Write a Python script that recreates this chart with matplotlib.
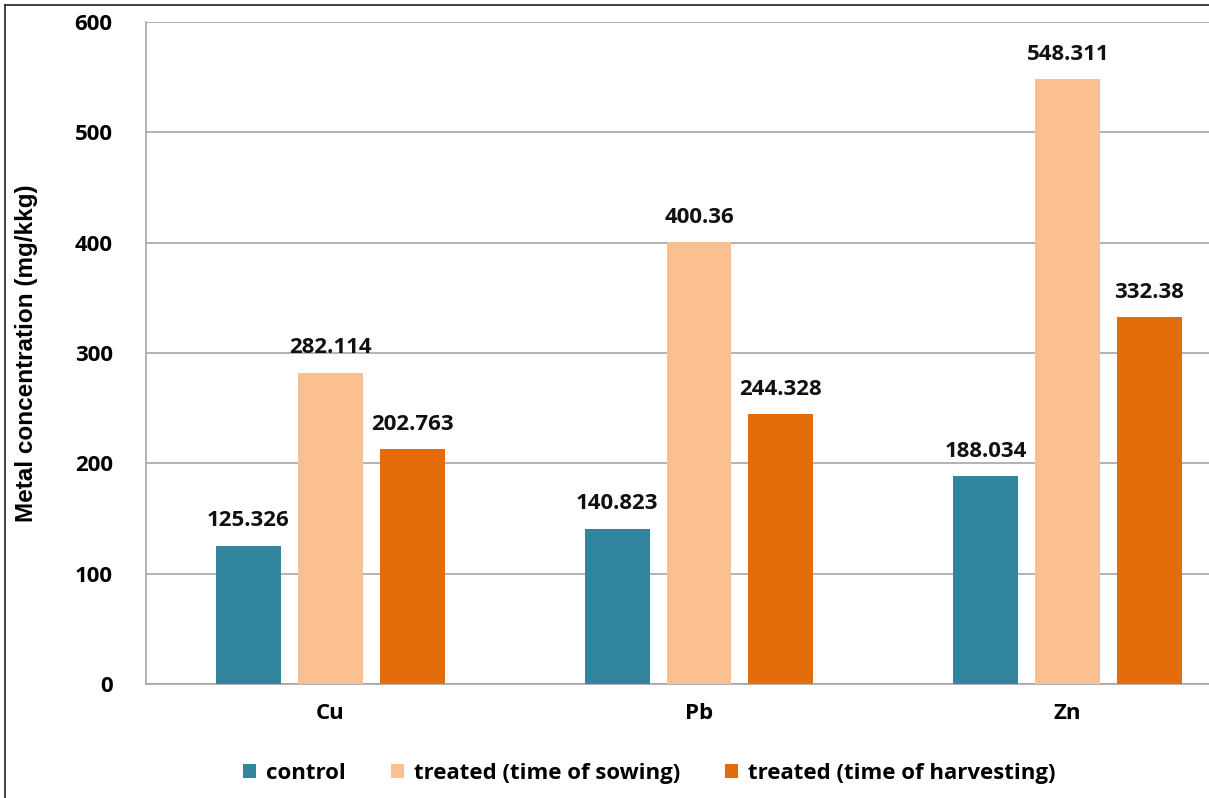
import numpy as np
import matplotlib.pyplot as plt
from matplotlib.lines import Line2D
from matplotlib.patches import Patch

plt.rcParams["font.family"] = ["Open Sans", "DejaVu Sans"]

# Data
metals = ["Cu", "Pb", "Zn"]
series_names = ["control", "treated (time of sowing)", "treated (time of harvesting)"]
control = [125.326, 140.823, 188.034]
sowing = [282.114, 400.36, 548.311]
harvesting = [213.0, 244.328, 332.38]  # Cu bar drawn taller than its label in the source
control_labels = ["125.326", "140.823", "188.034"]
sowing_labels = ["282.114", "400.36", "548.311"]
harvesting_labels = ["202.763", "244.328", "332.38"]
y_ticks = [0, 100, 200, 300, 400, 500, 600]

colors = ["#31859C", "#FAC090", "#E46C0A"]

fig = plt.figure(figsize=(12.09, 7.98), dpi=100)
ax = fig.add_axes([0.1208, 0.1429, 0.9148, 0.8296])

x = np.arange(len(metals))
width = 0.176
offset = 0.222

all_values = [control, sowing, harvesting]
all_labels = [control_labels, sowing_labels, harvesting_labels]
for i, (vals, labs) in enumerate(zip(all_values, all_labels)):
    pos = x + (i - 1) * offset
    ax.bar(pos, vals, width=width, color=colors[i], zorder=3)
    for px, v, lab in zip(pos, vals, labs):
        ax.text(px, v + 13, lab, ha="center", va="bottom",
                fontsize=16, fontweight="bold", color="#111111")

ax.set_xlim(-0.5, 2.5)
ax.set_ylim(0, 600)
ax.set_yticks(y_ticks)
ax.set_yticklabels([str(t) for t in y_ticks], fontsize=16, fontweight="bold")
ax.set_xticks(x)
ax.set_xticklabels(metals, fontsize=16, fontweight="bold")
ax.tick_params(axis="both", length=0)
ax.tick_params(axis="y", pad=24)
ax.tick_params(axis="x", pad=14)
ax.grid(axis="y", color="#A6A6A6", linewidth=1.2, zorder=0)

for side in ["top", "right"]:
    ax.spines[side].set_visible(False)
ax.spines["left"].set_color("#A6A6A6")
ax.spines["bottom"].set_color("#A6A6A6")
ax.spines["left"].set_linewidth(1.2)
ax.spines["bottom"].set_linewidth(1.2)

fig.text(0.022, 0.5576, "Metal concentration (mg/kkg)", rotation=90,
         ha="center", va="center", fontsize=17.5, fontweight="bold",
         family=["Liberation Sans", "DejaVu Sans"])

handles = [Patch(facecolor=c, edgecolor="none") for c in colors]
fig.legend(handles, series_names, loc="center", bbox_to_anchor=(0.537, 0.031),
           ncol=3, frameon=False, handlelength=0.6, handleheight=0.6,
           handletextpad=0.45, columnspacing=2.0,
           prop={"size": 16, "weight": "bold"})

# outer frame (left and top edges only visible)
fig.add_artist(Line2D([0.0045, 0.0045], [0.0, 0.9935], color="#222222",
                      linewidth=1.2, transform=fig.transFigure))
fig.add_artist(Line2D([0.0045, 1.0], [0.9935, 0.9935], color="#222222",
                      linewidth=1.2, transform=fig.transFigure))

fig.savefig("out.png", dpi=100)
